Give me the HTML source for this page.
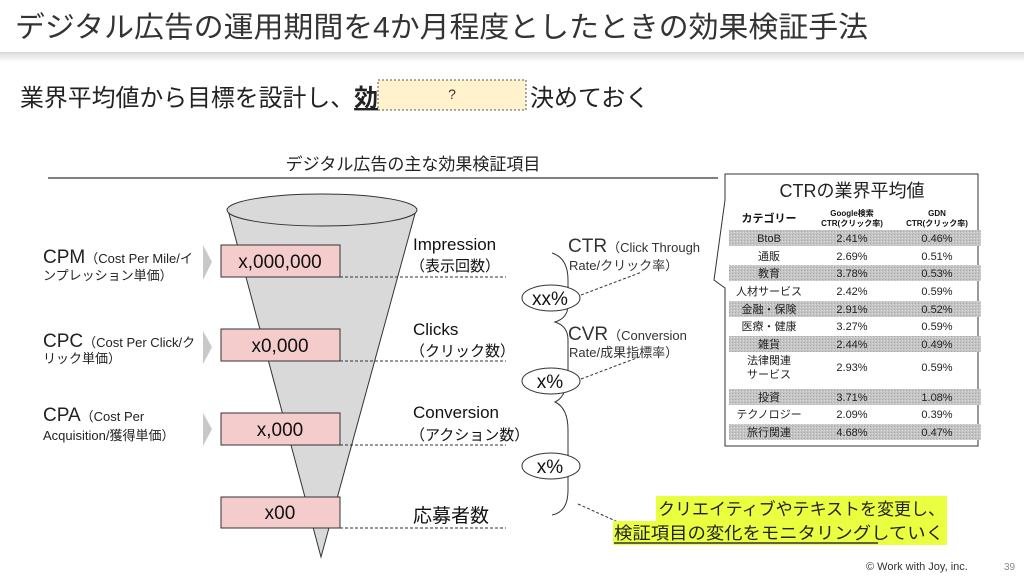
<!DOCTYPE html>
<html><head><meta charset="utf-8"><style>
body{margin:0;width:1024px;height:576px;overflow:hidden;background:#fff;font-family:"Liberation Sans","Noto Sans CJK JP",sans-serif}
svg text{font-family:"Liberation Sans","Noto Sans CJK JP",sans-serif}
</style></head><body>
<svg width="1024" height="576" viewBox="0 0 1024 576" xmlns="http://www.w3.org/2000/svg">
<defs>
<linearGradient id="sh" x1="0" y1="0" x2="0" y2="1"><stop offset="0" stop-color="#d8d8d8"/><stop offset="1" stop-color="#fff"/></linearGradient>
<pattern id="dot" width="3" height="3" patternUnits="userSpaceOnUse"><rect width="3" height="3" fill="#c4c4c4"/><rect width="1" height="1" fill="#a8a8a8"/><rect x="2" y="1" width="1" height="1" fill="#dcdcdc"/></pattern>
</defs>
<rect x="0" y="52" width="1024" height="10" fill="url(#sh)"/>
<rect x="0" y="0" width="1024" height="52" fill="#fff"/>
<text x="15" y="37" font-size="29" fill="#333" textLength="853" lengthAdjust="spacingAndGlyphs">デジタル広告の運用期間を4か月程度としたときの効果検証手法</text>

<text x="20" y="106" font-size="24" fill="#222" textLength="358" lengthAdjust="spacingAndGlyphs">業界平均値から目標を設計し、<tspan text-decoration="underline" font-weight="bold">効</tspan></text>
<rect x="378" y="80" width="148" height="30" fill="#fff2cc" stroke="#555" stroke-dasharray="2,2"/>
<text x="452" y="99" font-size="14" text-anchor="middle" fill="#333">?</text>
<text x="530" y="106" font-size="24" fill="#222">決めておく</text>

<text x="413" y="170" font-size="17" text-anchor="middle" fill="#222">デジタル広告の主な効果検証項目</text>
<line x1="48" y1="178" x2="718" y2="178" stroke="#333" stroke-width="1.2"/>

<path d="M228 210 L321 557 L416 210 Z" fill="#d9d9d9" stroke="#333" stroke-width="1"/>
<ellipse cx="322" cy="210" rx="95" ry="16" fill="#d9d9d9" stroke="#333"/>

<g fill="#f4cccc" stroke="#333">
<rect x="221" y="245" width="119" height="32"/>
<rect x="221" y="329" width="119" height="32"/>
<rect x="221" y="413" width="119" height="32"/>
<rect x="221" y="497" width="119" height="31"/>
</g>
<g font-size="19" text-anchor="middle" fill="#111">
<text x="280" y="268">x,000,000</text>
<text x="280" y="352">x0,000</text>
<text x="280" y="436">x,000</text>
<text x="280" y="519">x00</text>
</g>
<g stroke="#333" stroke-dasharray="3,2">
<line x1="340" y1="277" x2="506" y2="277"/>
<line x1="340" y1="361" x2="506" y2="361"/>
<line x1="340" y1="445" x2="506" y2="445"/>
<line x1="340" y1="528" x2="506" y2="528"/>
</g>
<g font-size="17" fill="#111">
<text x="413" y="250">Impression</text>
<text x="410" y="271" font-size="15">（表示回数）</text>
<text x="413" y="335">Clicks</text>
<text x="410" y="356" font-size="15">（クリック数）</text>
<text x="413" y="418">Conversion</text>
<text x="410" y="440" font-size="15">（アクション数）</text>
<text x="413" y="522" font-size="19">応募者数</text>
</g>

<g fill="#c8c8c8">
<path d="M203 245 L212 262 L203 280 Z"/>
<path d="M203 331 L212 347 L203 364 Z"/>
<path d="M203 413 L212 429 L203 446 Z"/>
</g>
<g fill="#222">
<text x="43" y="263" font-size="19">CPM<tspan font-size="13">（Cost Per Mile/イ</tspan></text>
<text x="43" y="280" font-size="13">ンプレッション単価）</text>
<text x="43" y="347" font-size="19">CPC<tspan font-size="13">（Cost Per Click/ク</tspan></text>
<text x="43" y="363" font-size="13">リック単価）</text>
<text x="43" y="421" font-size="19">CPA<tspan font-size="13">（Cost Per</tspan></text>
<text x="43" y="440" font-size="13">Acquisition/獲得単価）</text>
</g>

<g fill="none" stroke="#333" stroke-width="1">
<path d="M552 253 Q568 258 568 280 L568 305 Q568 318 555 322 Q568 326 568 340 L568 370 Q568 396 555 402 Q568 408 568 430 L568 490 Q568 512 552 515"/>
</g>
<g fill="#fff" stroke="#333">
<ellipse cx="551" cy="298" rx="29" ry="13"/>
<ellipse cx="551" cy="381" rx="29" ry="13"/>
<ellipse cx="551" cy="466" rx="29" ry="13"/>
</g>
<g font-size="19" text-anchor="middle" fill="#111">
<text x="550" y="305">xx%</text>
<text x="550" y="388">x%</text>
<text x="550" y="473">x%</text>
</g>
<g stroke="#333" stroke-dasharray="3,2" fill="none">
<line x1="581" y1="295" x2="642" y2="272"/>
<line x1="581" y1="379" x2="642" y2="356"/>
<line x1="578" y1="504" x2="618" y2="522"/>
</g>
<g fill="#333">
<text x="568" y="252" font-size="19">CTR<tspan font-size="13">（Click Through</tspan></text>
<text x="569" y="270" font-size="13">Rate/クリック率）</text>
<text x="568" y="340" font-size="19">CVR<tspan font-size="13">（Conversion</tspan></text>
<text x="569" y="357" font-size="13">Rate/成果指標率）</text>
</g>

<path d="M725 174 L978 174 L978 446 L725 446 L725 288 L714 280 L725 200 Z" fill="#fff" stroke="#333"/>
<text x="852" y="197" font-size="18" text-anchor="middle" fill="#222">CTRの業界平均値</text>
<g font-size="10" font-weight="bold" fill="#111" text-anchor="middle">
<text x="769" y="222" font-size="11">カテゴリー</text>
<text x="852" y="216" font-size="8">Google検索</text>
<text x="852" y="226" font-size="8">CTR(クリック率)</text>
<text x="937" y="216" font-size="8">GDN</text>
<text x="937" y="226" font-size="8">CTR(クリック率)</text>
</g>
<g fill="url(#dot)">
<rect x="729" y="230" width="252" height="16"/>
<rect x="729" y="265" width="252" height="16"/>
<rect x="729" y="301" width="252" height="16"/>
<rect x="729" y="336" width="252" height="16"/>
<rect x="729" y="389" width="252" height="16"/>
<rect x="729" y="424" width="252" height="16"/>
</g>
<g font-size="11" fill="#222" text-anchor="middle">
<text x="769" y="242">BtoB</text><text x="852" y="242">2.41%</text><text x="937" y="242">0.46%</text>
<text x="769" y="260">通販</text><text x="852" y="260">2.69%</text><text x="937" y="260">0.51%</text>
<text x="769" y="277">教育</text><text x="852" y="277">3.78%</text><text x="937" y="277">0.53%</text>
<text x="769" y="295">人材サービス</text><text x="852" y="295">2.42%</text><text x="937" y="295">0.59%</text>
<text x="769" y="313">金融・保険</text><text x="852" y="313">2.91%</text><text x="937" y="313">0.52%</text>
<text x="769" y="330">医療・健康</text><text x="852" y="330">3.27%</text><text x="937" y="330">0.59%</text>
<text x="769" y="348">雑貨</text><text x="852" y="348">2.44%</text><text x="937" y="348">0.49%</text>
<text x="769" y="364">法律関連</text><text x="769" y="378">サービス</text><text x="852" y="371">2.93%</text><text x="937" y="371">0.59%</text>
<text x="769" y="401">投資</text><text x="852" y="401">3.71%</text><text x="937" y="401">1.08%</text>
<text x="769" y="418">テクノロジー</text><text x="852" y="418">2.09%</text><text x="937" y="418">0.39%</text>
<text x="769" y="436">旅行関連</text><text x="852" y="436">4.68%</text><text x="937" y="436">0.47%</text>
</g>

<rect x="656" y="496" width="291" height="25" fill="#eaff3f"/>
<rect x="613" y="521" width="334" height="24" fill="#eaff3f"/>
<text x="658" y="515" font-size="17" fill="#222" textLength="287" lengthAdjust="spacingAndGlyphs">クリエイティブやテキストを変更し、</text>
<text x="614" y="539" font-size="17" fill="#222" textLength="330" lengthAdjust="spacingAndGlyphs">検証項目の変化をモニタリングしていく</text>
<line x1="614" y1="543" x2="878" y2="543" stroke="#333" stroke-width="1.5"/>

<text x="866" y="570" font-size="11" fill="#333">© Work with Joy, inc.</text>
<text x="1004" y="570" font-size="10" fill="#888">39</text>
</svg>
</body></html>
